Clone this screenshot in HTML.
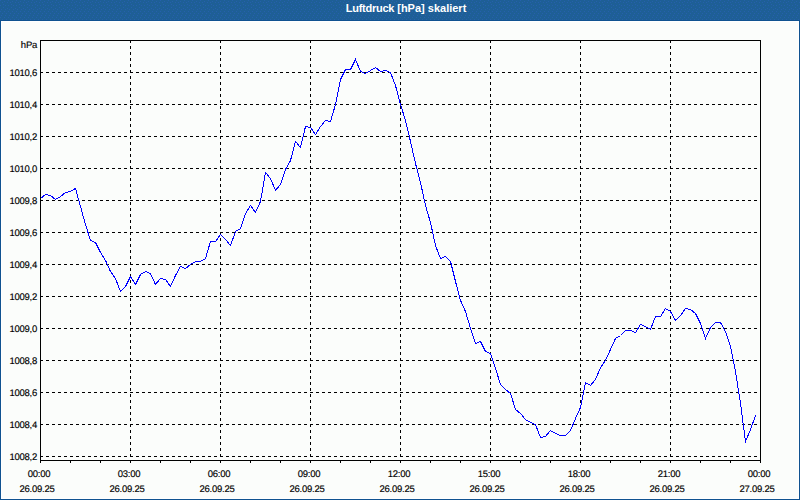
<!DOCTYPE html>
<html><head><meta charset="utf-8"><style>
html,body{margin:0;padding:0;}
body{width:800px;height:500px;position:relative;overflow:hidden;background:#fbfdfb;font-family:"Liberation Sans",sans-serif;}
.yl,.xl,#hpa{text-rendering:geometricPrecision;-webkit-text-stroke:0.15px #000;}
#win{position:absolute;left:0;top:0;width:798px;height:499px;border:1px solid #0f5290;border-top:0;}
#title{position:absolute;left:0;top:0;width:800px;height:21px;background:#1e5f96;border-bottom:1px solid #0f5290;color:#fff;font-weight:bold;font-size:11px;line-height:17px;text-align:center;padding-left:12px;box-sizing:border-box;}
#hl{position:absolute;left:1px;top:21px;width:796px;height:476px;border:1px solid #ffffff;}
.yl{position:absolute;left:0;width:37px;text-align:right;font-size:9.5px;letter-spacing:-0.25px;line-height:12px;color:#000;}
.xl{position:absolute;width:60px;text-align:center;font-size:9.5px;letter-spacing:-0.25px;line-height:12px;color:#000;}
#hpa{position:absolute;left:0;width:37px;top:40px;text-align:right;font-size:9.5px;letter-spacing:-0.25px;line-height:12px;}
svg{position:absolute;left:0;top:0;}
</style></head><body>
<div id="win"></div>
<div id="hl"></div>
<div id="title"><svg id="tsvg" width="800" height="20" style="position:absolute;left:0;top:0"><defs><pattern id="dp" x="0" y="0" width="8" height="20" patternUnits="userSpaceOnUse"><g fill="#2660ac"><rect x="0" y="0" width="1" height="1"/><rect x="4" y="1" width="1" height="1"/><rect x="2" y="2" width="1" height="1"/><rect x="7" y="2" width="1" height="1"/><rect x="3" y="4" width="1" height="1"/><rect x="0" y="5" width="1" height="1"/><rect x="5" y="5" width="1" height="1"/><rect x="3" y="7" width="1" height="1"/><rect x="7" y="8" width="1" height="1"/><rect x="1" y="9" width="1" height="1"/><rect x="5" y="9" width="1" height="1"/><rect x="0" y="11" width="1" height="1"/><rect x="4" y="11" width="1" height="1"/><rect x="2" y="13" width="1" height="1"/><rect x="6" y="13" width="1" height="1"/><rect x="1" y="15" width="1" height="1"/><rect x="5" y="15" width="1" height="1"/><rect x="0" y="17" width="1" height="1"/><rect x="4" y="17" width="1" height="1"/><rect x="2" y="19" width="1" height="1"/><rect x="6" y="19" width="1" height="1"/></g></pattern></defs><rect x="0" y="0" width="800" height="20" fill="url(#dp)"/></svg><span style="position:relative"><span style="letter-spacing:-0.25px">Luftdruck</span> [hPa] skaliert</span></div>
<div id="hpa">hPa</div>
<div class="yl" style="top:68px">1010,6</div>
<div class="yl" style="top:100px">1010,4</div>
<div class="yl" style="top:132px">1010,2</div>
<div class="yl" style="top:164px">1010,0</div>
<div class="yl" style="top:196px">1009,8</div>
<div class="yl" style="top:228px">1009,6</div>
<div class="yl" style="top:260px">1009,4</div>
<div class="yl" style="top:292px">1009,2</div>
<div class="yl" style="top:324px">1009,0</div>
<div class="yl" style="top:356px">1008,8</div>
<div class="yl" style="top:388px">1008,6</div>
<div class="yl" style="top:420px">1008,4</div>
<div class="yl" style="top:452px">1008,2</div>
<div class="xl" style="left:9px;top:469px">00:00</div>
<div class="xl" style="left:7px;top:484px">26.09.25</div>
<div class="xl" style="left:99px;top:469px">03:00</div>
<div class="xl" style="left:97px;top:484px">26.09.25</div>
<div class="xl" style="left:189px;top:469px">06:00</div>
<div class="xl" style="left:187px;top:484px">26.09.25</div>
<div class="xl" style="left:279px;top:469px">09:00</div>
<div class="xl" style="left:277px;top:484px">26.09.25</div>
<div class="xl" style="left:369px;top:469px">12:00</div>
<div class="xl" style="left:367px;top:484px">26.09.25</div>
<div class="xl" style="left:459px;top:469px">15:00</div>
<div class="xl" style="left:457px;top:484px">26.09.25</div>
<div class="xl" style="left:549px;top:469px">18:00</div>
<div class="xl" style="left:547px;top:484px">26.09.25</div>
<div class="xl" style="left:639px;top:469px">21:00</div>
<div class="xl" style="left:637px;top:484px">26.09.25</div>
<div class="xl" style="left:729px;top:469px">00:00</div>
<div class="xl" style="left:727px;top:484px">27.09.25</div>
<svg width="800" height="500" viewBox="0 0 800 500">
<g stroke="#000" stroke-width="1" stroke-dasharray="3 3" shape-rendering="crispEdges" fill="none">
<line x1="40" y1="72.5" x2="760" y2="72.5"/>
<line x1="40" y1="104.5" x2="760" y2="104.5"/>
<line x1="40" y1="136.5" x2="760" y2="136.5"/>
<line x1="40" y1="168.5" x2="760" y2="168.5"/>
<line x1="40" y1="200.5" x2="760" y2="200.5"/>
<line x1="40" y1="232.5" x2="760" y2="232.5"/>
<line x1="40" y1="264.5" x2="760" y2="264.5"/>
<line x1="40" y1="296.5" x2="760" y2="296.5"/>
<line x1="40" y1="328.5" x2="760" y2="328.5"/>
<line x1="40" y1="360.5" x2="760" y2="360.5"/>
<line x1="40" y1="392.5" x2="760" y2="392.5"/>
<line x1="40" y1="424.5" x2="760" y2="424.5"/>
<line x1="40" y1="456.5" x2="760" y2="456.5"/>
<line x1="130.5" y1="40" x2="130.5" y2="460"/>
<line x1="220.5" y1="40" x2="220.5" y2="460"/>
<line x1="310.5" y1="40" x2="310.5" y2="460"/>
<line x1="400.5" y1="40" x2="400.5" y2="460"/>
<line x1="490.5" y1="40" x2="490.5" y2="460"/>
<line x1="580.5" y1="40" x2="580.5" y2="460"/>
<line x1="670.5" y1="40" x2="670.5" y2="460"/>
</g>
<path d="M40.5 460V463 M70.5 460V463 M100.5 460V463 M130.5 460V463 M160.5 460V463 M190.5 460V463 M220.5 460V463 M250.5 460V463 M280.5 460V463 M310.5 460V463 M340.5 460V463 M370.5 460V463 M400.5 460V463 M430.5 460V463 M460.5 460V463 M490.5 460V463 M520.5 460V463 M550.5 460V463 M580.5 460V463 M610.5 460V463 M640.5 460V463 M670.5 460V463 M700.5 460V463 M730.5 460V463 M760.5 460V463" stroke="#000" stroke-width="1" shape-rendering="crispEdges"/>
<polyline points="40.5,198.5 45.5,194.5 50.5,195.5 55.5,199.5 60.5,196.5 65.5,192.5 70.5,191.5 75.5,188.5 80.5,206.5 85.5,224.5 90.5,240.5 95.5,242.5 100.5,252.5 105.5,260.5 110.5,271.5 115.5,278.5 120.5,291.5 125.5,286.5 130.5,276.5 135.5,284.5 140.5,274.5 145.5,271.5 150.5,273.5 155.5,284.5 160.5,278.5 165.5,279.5 170.5,286.5 175.5,275.5 180.5,266.5 185.5,268.5 190.5,264.5 195.5,261.5 200.5,261.5 205.5,258.5 210.5,241.5 215.5,241.5 220.5,234.5 225.5,239.5 230.5,245.5 235.5,231.5 240.5,228.5 245.5,213.5 250.5,205.5 255.5,212.5 260.5,201.5 265.5,172.5 270.5,178.5 275.5,190.5 280.5,184.5 285.5,169.5 290.5,160.5 295.5,141.5 300.5,147.5 305.5,126.5 310.5,127.5 315.5,134.5 320.5,126.5 325.5,120.5 330.5,121.5 335.5,104.5 340.5,79.5 345.5,69.5 350.5,69.5 355.5,59.5 360.5,71.5 365.5,73.5 370.5,70.5 375.5,67.5 380.5,71.5 385.5,70.5 390.5,72.5 395.5,85.5 400.5,104.5 405.5,120.5 410.5,141.5 415.5,163.5 420.5,182.5 425.5,205.5 430.5,222.5 435.5,245.5 440.5,258.5 445.5,256.5 450.5,261.5 455.5,281.5 460.5,300.5 465.5,311.5 470.5,328.5 475.5,343.5 480.5,341.5 485.5,351.5 490.5,353.5 495.5,368.5 500.5,384.5 505.5,389.5 510.5,393.5 515.5,409.5 520.5,413.5 525.5,419.5 530.5,422.5 535.5,424.5 540.5,437.5 545.5,436.5 550.5,430.5 555.5,433.5 560.5,435.5 565.5,435.5 570.5,430.5 575.5,418.5 580.5,407.5 585.5,382.5 590.5,385.5 595.5,379.5 600.5,367.5 605.5,360.5 610.5,349.5 615.5,338.5 620.5,335.5 625.5,330.5 630.5,330.5 635.5,332.5 640.5,324.5 645.5,326.5 650.5,329.5 655.5,316.5 660.5,316.5 665.5,308.5 670.5,311.5 675.5,320.5 680.5,315.5 685.5,308.5 690.5,309.5 695.5,313.5 700.5,323.5 705.5,338.5 710.5,327.5 715.5,322.5 720.5,322.5 725.5,331.5 730.5,346.5 735.5,371.5 740.5,403.5 745.5,441.5 750.5,429.5 755.5,415.5" fill="none" stroke="#0000ff" stroke-width="1" shape-rendering="crispEdges"/>
<rect x="40.5" y="40.5" width="720" height="420" fill="none" stroke="#000" stroke-width="1" shape-rendering="crispEdges"/>
</svg>
</body></html>
